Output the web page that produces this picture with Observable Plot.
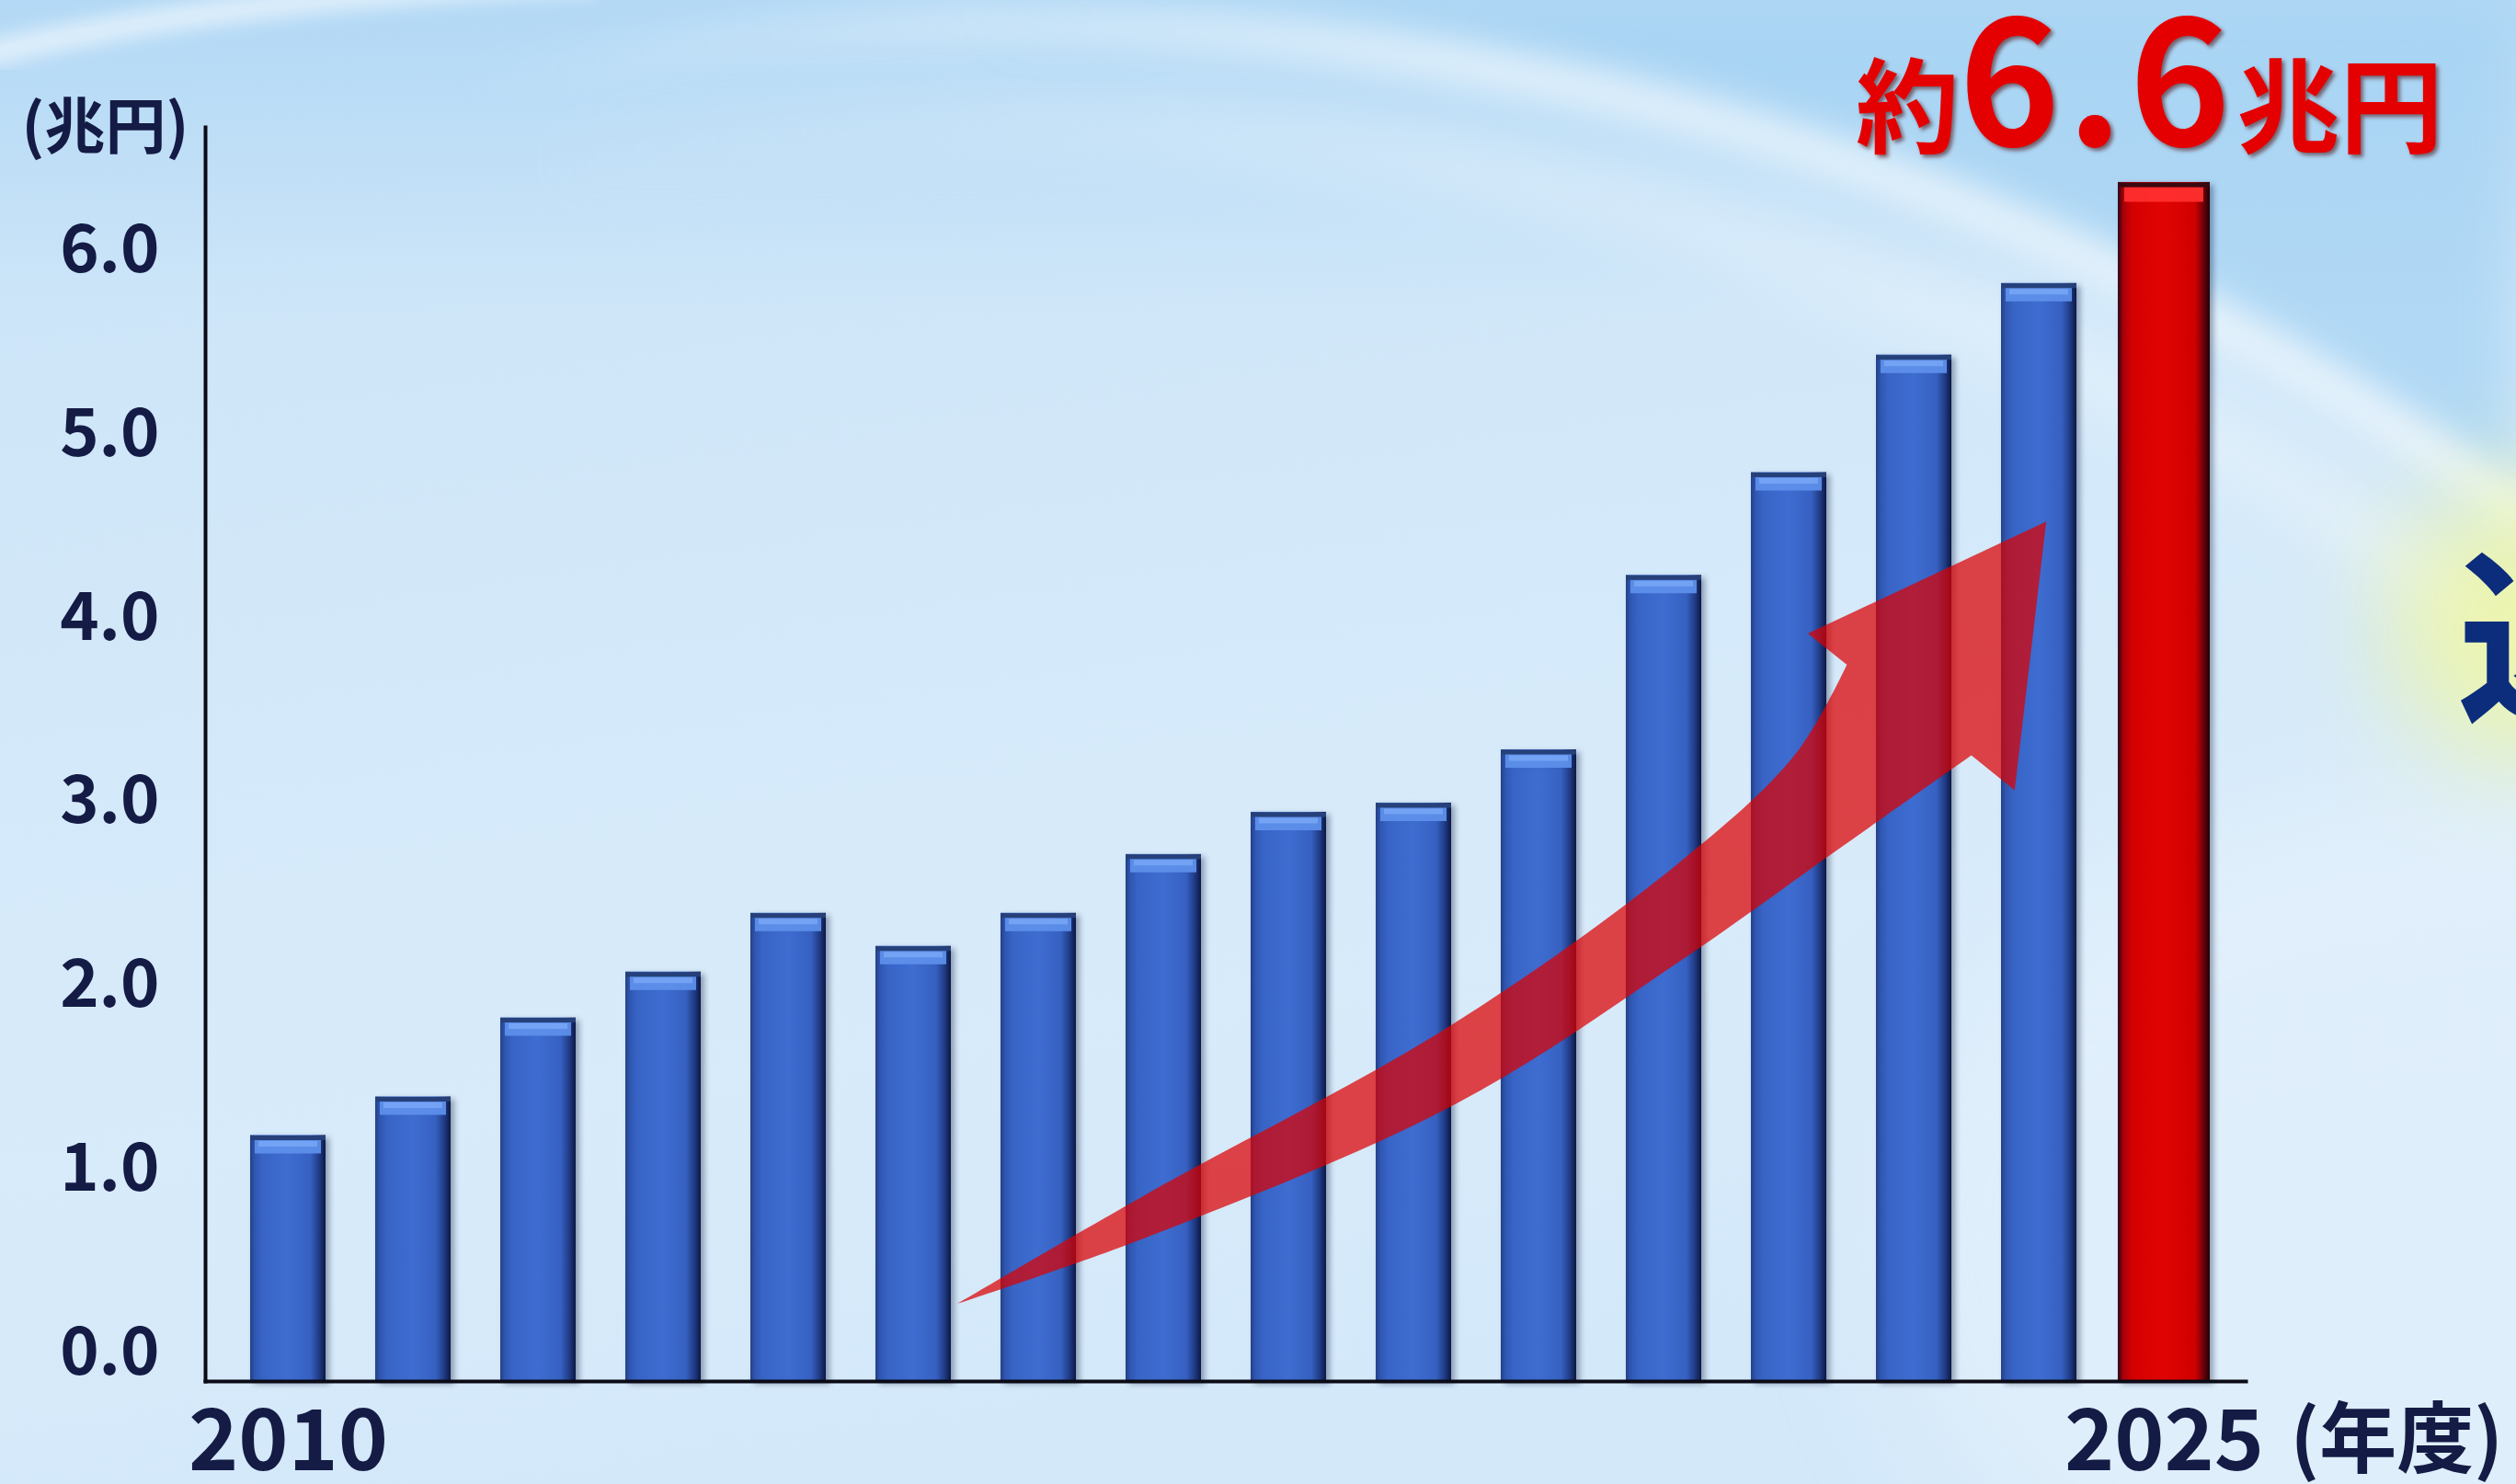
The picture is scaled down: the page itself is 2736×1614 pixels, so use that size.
<!DOCTYPE html>
<html>
<head>
<meta charset="utf-8">
<script src="https://cdn.jsdelivr.net/npm/d3@7"></script>
<script src="https://cdn.jsdelivr.net/npm/@observablehq/plot@0.6"></script>
<style>
html, body { margin: 0; padding: 0; }
body { width: 2736px; height: 1614px; overflow: hidden; position: relative; background: #d3e8f9;
  font-family: "Noto Sans CJK JP", sans-serif; }
#bg { position: absolute; left: 0; top: 0; }
#chart { position: absolute; left: 0; top: 0; }
#chart svg { display: block; }
</style>
</head>
<body>
<svg id="bg" width="2736" height="1614" viewBox="0 0 2736 1614" xmlns="http://www.w3.org/2000/svg">
  <defs>
    <linearGradient id="bgBase" x1="0" y1="0" x2="0.25" y2="1">
      <stop offset="0" stop-color="#c9e3f8"/>
      <stop offset="0.4" stop-color="#d2e8f9"/>
      <stop offset="0.75" stop-color="#d8ebfa"/>
      <stop offset="1" stop-color="#d3e8f9"/>
    </linearGradient>
    <linearGradient id="topBand" x1="0" y1="0" x2="0" y2="1">
      <stop offset="0" stop-color="#a9d4f4" stop-opacity="0.7"/>
      <stop offset="1" stop-color="#a9d4f4" stop-opacity="0"/>
    </linearGradient>
    <linearGradient id="arcFade" gradientUnits="userSpaceOnUse" x1="500" y1="0" x2="1600" y2="0">
      <stop offset="0" stop-color="#ffffff" stop-opacity="0"/>
      <stop offset="1" stop-color="#ffffff" stop-opacity="1"/>
    </linearGradient>
    <filter id="blur18" x="-20%" y="-20%" width="140%" height="140%"><feGaussianBlur stdDeviation="18"/></filter>
    <filter id="blur10" x="-20%" y="-20%" width="140%" height="140%"><feGaussianBlur stdDeviation="10"/></filter>
    <filter id="blur30" x="-20%" y="-20%" width="140%" height="140%"><feGaussianBlur stdDeviation="30"/></filter>
    <filter id="blur60" x="-50%" y="-50%" width="200%" height="200%"><feGaussianBlur stdDeviation="60"/></filter>
  </defs>
  <rect width="2736" height="1614" fill="url(#bgBase)"/>
  <rect width="2736" height="340" fill="url(#topBand)"/>
  <path d="M1100,22 A2778,2778 0 0 1 2736,555 L2736,0 L1100,0 Z" fill="#a3d2f3" opacity="0.7" filter="url(#blur30)"/>
  <ellipse cx="2736" cy="1350" rx="700" ry="500" fill="#e6f2fc" opacity="0.6" filter="url(#blur60)"/>
  <path d="M500,95 A2778,2778 0 0 1 2760,570" fill="none" stroke="url(#arcFade)" stroke-width="46" opacity="0.6" filter="url(#blur18)"/>
  <path d="M600,180 A2660,2660 0 0 1 2760,720" fill="none" stroke="url(#arcFade)" stroke-width="70" opacity="0.28" filter="url(#blur30)"/>
  <path d="M-20,60 Q250,-5 650,-20" fill="none" stroke="#ffffff" stroke-width="26" opacity="0.6" filter="url(#blur10)"/>
  <circle cx="2750" cy="680" r="150" fill="#eef6a6" opacity="0.9" filter="url(#blur60)"/>
</svg>
<div id="chart"></div>
<script>
// ---- data ----
const years = [2010, 2011, 2012, 2013, 2014, 2015, 2016, 2017, 2018, 2019, 2020, 2021, 2022, 2023, 2024, 2025];
const values = [1.34, 1.55, 1.98, 2.23, 2.55, 2.37, 2.55, 2.87, 3.10, 3.15, 3.44, 4.39, 4.95, 5.59, 5.98, 6.53];
const yTicks = [0, 1, 2, 3, 4, 5, 6];
const xTicks = [2010, 2025];
const forecastYear = 2025;
const totalParts = ["約", "6.6", "兆円"];
const yUnit = "(兆円)";
const xUnit = "(年度)";
const sideNote = "込み";
// trend arrow annotation (tail and tip in data space, outline relative to tail->tip)
const arrowTail = {year: 2015, shift: 0.35, value: 0.42};
const arrowTip = {year: 2024, shift: 0.06, value: 4.68};
const arrowOutline = [[0,0],[0.163,0.016],[0.418,0.046],[0.627,0.047],[0.746,0.032],[0.817,0.0],
  [0.807,-0.036],[1,0],[0.864,0.149],[0.853,0.109],
  [0.729,0.108],[0.592,0.107],[0.39,0.096],[0.147,0.043],[0,0]];

const data = years.map((year, i) => ({year, value: values[i]}));
const past = data.filter(d => d.year !== forecastYear);
const future = data.filter(d => d.year === forecastYear);

function trendArrowMark(index, scales) {
  const x = scales.x, y = scales.y;
  const bw = x.bandwidth();
  const step = x.step ? x.step() : bw / 0.6;
  const px = p => x(p.year) + bw / 2 + p.shift * step;
  const T = [px(arrowTail), y(arrowTail.value)];
  const P = [px(arrowTip), y(arrowTip.value)];
  const D = [P[0] - T[0], P[1] - T[1]];
  const pt = ([s, t]) => [T[0] + s * D[0] - t * D[1], T[1] + s * D[1] + t * D[0]];
  const upper = arrowOutline.slice(0, 6).map(pt);
  const head = arrowOutline.slice(6, 10).map(pt);
  const lower = arrowOutline.slice(9).map(pt);
  const curve = d3.line().curve(d3.curveCatmullRom.alpha(0.5));
  const d = curve(upper) + head.map(p => "L" + p.join(",")).join("") + curve(lower).replace(/^M/, "L") + "Z";
  const g = d3.create("svg:g").attr("aria-label", "trend-arrow");
  g.append("path").attr("d", d).attr("fill", "#dc0000").attr("fill-opacity", 0.72);
  return g.node();
}

const ink = "#141b45";

const chart = Plot.plot({
  width: 2736,
  height: 1614,
  marginLeft: 223,
  marginRight: 294,
  marginTop: 138,
  marginBottom: 112,
  style: {background: "transparent", fontFamily: "'Noto Sans CJK JP', sans-serif", color: ink, overflow: "visible"},
  x: {type: "band", domain: years, paddingInner: 0.4, paddingOuter: 0.35, axis: null},
  y: {domain: [0, 6.83], axis: null},
  marks: [
    Plot.barY(past, {x: "year", y: "value", fill: "url(#barBlue)"}),
    Plot.tickY(past, {x: "year", y: "value", stroke: "#5d8fea", strokeWidth: 15, dy: 12, insetLeft: 5, insetRight: 5, strokeOpacity: 0.95}),
    Plot.tickY(past, {x: "year", y: "value", stroke: "#7aa8f6", strokeWidth: 6, dy: 9, insetLeft: 9, insetRight: 9, strokeOpacity: 0.8}),
    Plot.tickY(past, {x: "year", y: "value", stroke: "#26407a", strokeWidth: 5, dy: 2.5}),
    Plot.barY(future, {x: "year", y: "value", fill: "url(#barRed)", insetLeft: -9, insetRight: -9}),
    Plot.tickY(future, {x: "year", y: "value", stroke: "#ff2e2e", strokeWidth: 16, dy: 13, insetLeft: -2, insetRight: -2, strokeOpacity: 0.95}),
    Plot.tickY(future, {x: "year", y: "value", stroke: "#3a0812", strokeWidth: 5, dy: 2.5, insetLeft: -9, insetRight: -9}),
    trendArrowMark,
    Plot.frame({anchor: "left", stroke: "#0b0b16", strokeWidth: 4}),
    Plot.frame({anchor: "bottom", stroke: "#0b0b16", strokeWidth: 4}),
    Plot.axisY({ticks: yTicks, tickSize: 0, tickPadding: 50, dy: -31, fontSize: 72, fontWeight: 700,
      tickFormat: d3.format(".1f"), label: null, fill: ink}),
    Plot.axisX({ticks: xTicks, tickSize: 0, tickPadding: 31, fontSize: 92, fontWeight: 700,
      tickFormat: d => String(d), label: null, fill: ink}),
    Plot.text(future, {x: "year", frameAnchor: "bottom", text: () => xUnit, textAnchor: "start",
      lineAnchor: "top", dx: 137, dy: 33, fontSize: 84, fontWeight: 700, fill: ink}),
    Plot.text([yUnit], {frameAnchor: "top-left", text: d => d, textAnchor: "end", dx: -18, dy: -24,
      fontSize: 66, fontWeight: 700, fill: ink}),
    Plot.text([sideNote], {frameAnchor: "top-right", text: d => d, textAnchor: "start", lineAnchor: "bottom",
      dx: 229, dy: 631, fontSize: 205, fontWeight: 700, fill: "#0c2c7c"}),
    Plot.text(future, {x: "year", y: "value", text: () => totalParts.join(""), textAnchor: "end",
      lineAnchor: "bottom", dx: 303, dy: -40, fontSize: 112, fontWeight: 700, fill: "#e40000"})
  ]
});

document.getElementById("chart").append(chart);

// gradients for the bevelled bars
const svg = d3.select(chart);
const defs = svg.insert("defs", ":first-child");
function hGrad(id, stops) {
  const g = defs.append("linearGradient").attr("id", id).attr("x1", 0).attr("y1", 0).attr("x2", 1).attr("y2", 0);
  stops.forEach(([o, c]) => g.append("stop").attr("offset", o).attr("stop-color", c));
}
hGrad("barBlue", [[0, "#243f86"], [0.06, "#2f56b0"], [0.16, "#3864c6"], [0.5, "#3e6cd0"], [0.8, "#3661c2"], [0.91, "#213d88"], [1, "#0c1844"]]);
hGrad("barRed", [[0, "#2a0614"], [0.06, "#a8000a"], [0.16, "#d40000"], [0.5, "#e20404"], [0.84, "#cf0000"], [0.93, "#6e0008"], [1, "#1c0408"]]);

svg.selectAll('g[aria-label="bar"]').style("filter", "drop-shadow(4px 3px 3px rgba(0,10,50,0.35))");

// mixed-size title text
const fullTitle = totalParts.join("");
const tNode = Array.from(chart.querySelectorAll("text")).find(el => el.textContent === fullTitle);
if (tNode) {
  const t = d3.select(tNode);
  t.text(null).attr("dy", null);
  totalParts.forEach((s, i) => {
    const ts = t.append("tspan").attr("font-size", i === 1 ? 187 : 112).text(s);
    if (i === 1) ts.attr("letter-spacing", 7);
  });
  t.style("filter", "drop-shadow(3px 3px 2px rgba(70,0,0,0.55))");
}
</script>
</body>
</html>
